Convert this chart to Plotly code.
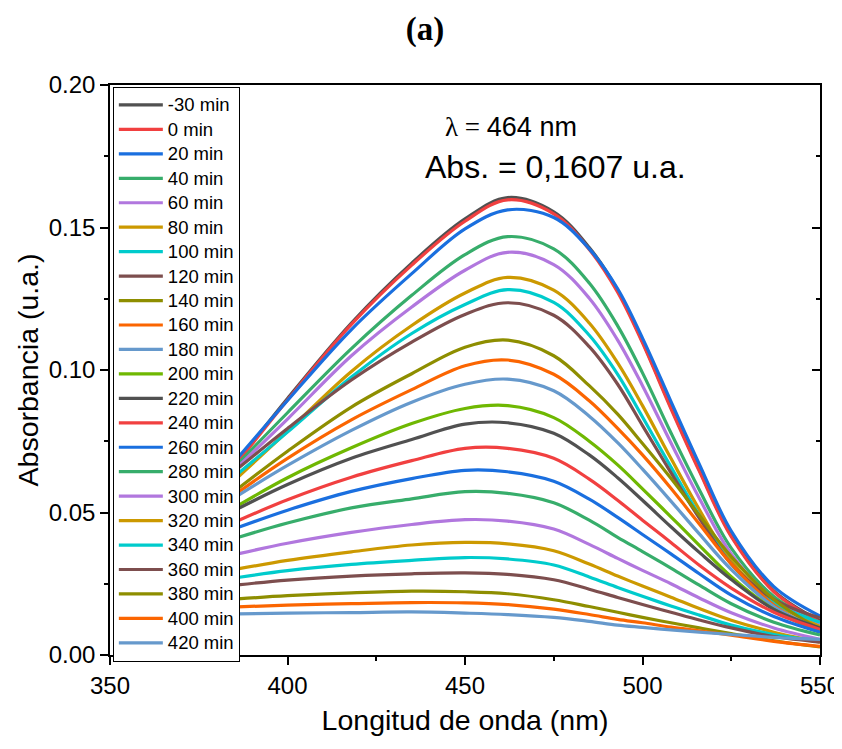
import plotly.graph_objects as go

wavelength_nm = [386, 400, 418, 435, 450, 462, 475, 485, 493, 500, 508, 516, 525, 537, 550]

series_labels = ["-30 min", "0 min", "20 min", "40 min", "60 min", "80 min", "100 min",
                 "120 min", "140 min", "160 min", "180 min", "200 min", "220 min",
                 "240 min", "260 min", "280 min", "300 min", "320 min", "340 min",
                 "360 min", "380 min", "400 min", "420 min"]

abs_m30 = [.0680, .0900, .1165, .1375, .1530, .1605, .1555, .1430, .1280, .1100, .0870, .0650, .0420, .0225, .0120]
abs_0   = [.0676, .0895, .1160, .1368, .1522, .1597, .1548, .1423, .1273, .1095, .0865, .0645, .0415, .0222, .0115]
abs_20  = [.0692, .0893, .1142, .1338, .1495, .1562, .1535, .1425, .1285, .1112, .0890, .0670, .0435, .0240, .0137]
abs_40  = [.0671, .0850, .1075, .1262, .1405, .1468, .1425, .1305, .1155, .0990, .0780, .0580, .0375, .0205, .0110]
abs_60  = [.0660, .0828, .1050, .1221, .1350, .1413, .1370, .1252, .1105, .0945, .0745, .0550, .0355, .0195, .0110]
abs_80  = [.0623, .0785, .0995, .1156, .1270, .1325, .1280, .1165, .1025, .0875, .0690, .0510, .0330, .0185, .0100]
abs_100 = [.0636, .0782, .0975, .1128, .1230, .1282, .1237, .1122, .0985, .0835, .0660, .0490, .0320, .0185, .0115]
abs_120 = [.0654, .0795, .0965, .1098, .1195, .1236, .1192, .1082, .0950, .0805, .0640, .0480, .0320, .0195, .0130]
abs_140 = [.0583, .0715, .0870, .0987, .1080, .1105, .1050, .0945, .0845, .0742, .0620, .0490, .0345, .0195, .0090]
abs_160 = [.0570, .0690, .0825, .0931, .1015, .1035, .0985, .0892, .0795, .0702, .0585, .0460, .0320, .0175, .0080]
abs_180 = [.0559, .0665, .0788, .0887, .0950, .0968, .0927, .0838, .0745, .0652, .0540, .0425, .0300, .0170, .0090]
abs_200 = [.0524, .0622, .0727, .0812, .0865, .0875, .0833, .0750, .0667, .0583, .0485, .0385, .0275, .0160, .0080]
abs_220 = [.0513, .0598, .0690, .0756, .0810, .0815, .0778, .0702, .0622, .0543, .0450, .0360, .0265, .0160, .0095]
abs_240 = [.0471, .0545, .0624, .0682, .0725, .0725, .0690, .0617, .0543, .0473, .0395, .0315, .0235, .0150, .0090]
abs_260 = [.0447, .0508, .0574, .0619, .0648, .0643, .0610, .0547, .0483, .0423, .0355, .0285, .0210, .0135, .0080]
abs_280 = [.0412, .0463, .0516, .0548, .0573, .0567, .0534, .0473, .0413, .0363, .0305, .0245, .0180, .0115, .0070]
abs_300 = [.0355, .0392, .0430, .0458, .0475, .0470, .0442, .0388, .0339, .0297, .0250, .0200, .0148, .0095, .0055]
abs_320 = [.0302, .0332, .0362, .0386, .0395, .0390, .0366, .0319, .0277, .0242, .0203, .0163, .0122, .0080, .0045]
abs_340 = [.0272, .0296, .0318, .0332, .0342, .0337, .0316, .0274, .0237, .0206, .0172, .0140, .0105, .0072, .0050]
abs_360 = [.0246, .0263, .0277, .0285, .0288, .0283, .0264, .0231, .0202, .0177, .0150, .0123, .0095, .0065, .0045]
abs_380 = [.0197, .0208, .0218, .0224, .0222, .0215, .0194, .0170, .0150, .0132, .0113, .0095, .0075, .0050, .0028]
abs_400 = [.0169, .0175, .0180, .0184, .0183, .0177, .0161, .0142, .0125, .0113, .0098, .0085, .0070, .0048, .0030]
abs_420 = [.0144, .0147, .0149, .0151, .0147, .0142, .0132, .0118, .0105, .0097, .0088, .0080, .0072, .0062, .0055]

all_series = [abs_m30, abs_0, abs_20, abs_40, abs_60, abs_80, abs_100, abs_120, abs_140,
              abs_160, abs_180, abs_200, abs_220, abs_240, abs_260, abs_280, abs_300,
              abs_320, abs_340, abs_360, abs_380, abs_400, abs_420]

palette = ["#515151", "#F14040", "#1A6FDF", "#37AD6B", "#B177DE", "#CC9900",
           "#00CBCC", "#7D4E4E", "#8E8E00", "#FB6501", "#6699CC", "#6FB802"]

x_ticks = [350, 400, 450, 500, 550]
y_ticks = [0.00, 0.05, 0.10, 0.15, 0.20]

FONT = "Liberation Sans, Arial, sans-serif"

fig = go.Figure()
for i, (lab, ys) in enumerate(zip(series_labels, all_series)):
    fig.add_trace(go.Scatter(
        x=wavelength_nm, y=ys, mode="lines",
        name=f"<span style='font-size:18.5px'>{lab}</span>",
        legendgroup=f"g{i}",
        line=dict(color=palette[i % len(palette)], width=3.2, shape="spline", smoothing=1.0),
    ))

# invisible trace to anchor the right-hand (inward-tick) axis
fig.add_trace(go.Scatter(x=[None], y=[None], yaxis="y2", showlegend=False, hoverinfo="skip"))

fig.update_layout(
    width=834, height=741,
    margin=dict(l=102, r=22, t=77, b=94),
    paper_bgcolor="white", plot_bgcolor="white",
    font=dict(family=FONT, color="black"),
    title=dict(text="<b>(a)</b>", x=0.5, xanchor="center", y=0.972, yanchor="middle",
               font=dict(family="Liberation Serif, Times New Roman, serif", size=33)),
    xaxis=dict(
        range=[350, 550], tickvals=x_ticks, ticktext=[str(v) for v in x_ticks],
        ticks="outside", ticklen=8, tickwidth=1.5, tickcolor="black",
        minor=dict(ticks="outside", ticklen=4, tickwidth=1.5, dtick=25, tick0=350, tickcolor="black"),
        showline=True, linewidth=1.5, linecolor="black", mirror=True,
        showgrid=False, zeroline=False, automargin=False,
        tickfont=dict(size=24),
        title=dict(text="Longitud de onda (nm)", font=dict(size=28.5), standoff=13),
    ),
    yaxis=dict(
        range=[0, 0.2], tickvals=y_ticks, ticktext=[f"{v:.2f}" for v in y_ticks],
        ticks="outside", ticklen=8, tickwidth=1.5, tickcolor="black",
        minor=dict(ticks="outside", ticklen=4, tickwidth=1.5, dtick=0.025, tick0=0, tickcolor="black"),
        showline=True, linewidth=1.5, linecolor="black", mirror=True,
        showgrid=False, zeroline=False, automargin=False,
        tickfont=dict(size=24),
        title=dict(text="Absorbancia (u.a.)", font=dict(size=28.5), standoff=2),
    ),
    yaxis2=dict(
        range=[0, 0.2], overlaying="y", side="right", tickvals=y_ticks,
        showticklabels=False, ticks="inside", ticklen=8, tickwidth=1.5, tickcolor="black",
        minor=dict(ticks="inside", ticklen=4, tickwidth=1.5, dtick=0.025, tick0=0, tickcolor="black"),
        showgrid=False, zeroline=False, showline=False, automargin=False,
    ),
    legend=dict(
        x=0.004, y=0.997, xanchor="left", yanchor="top",
        bgcolor="white", bordercolor="black", borderwidth=1,
        font=dict(size=16.5, family=FONT), tracegroupgap=0,
        itemwidth=44, maxheight=730,
    ),
    annotations=[
        dict(text="<span style='font-family:Liberation Serif'>λ = </span>464 nm",
             xref="paper", yref="paper", x=0.565, y=0.926, xanchor="center", yanchor="middle",
             showarrow=False, font=dict(size=27)),
        dict(text="Abs. = 0,1607 u.a.",
             xref="paper", yref="paper", x=0.627, y=0.856, xanchor="center", yanchor="middle",
             showarrow=False, font=dict(size=32)),
    ],
)

fig.write_html("out.html")
